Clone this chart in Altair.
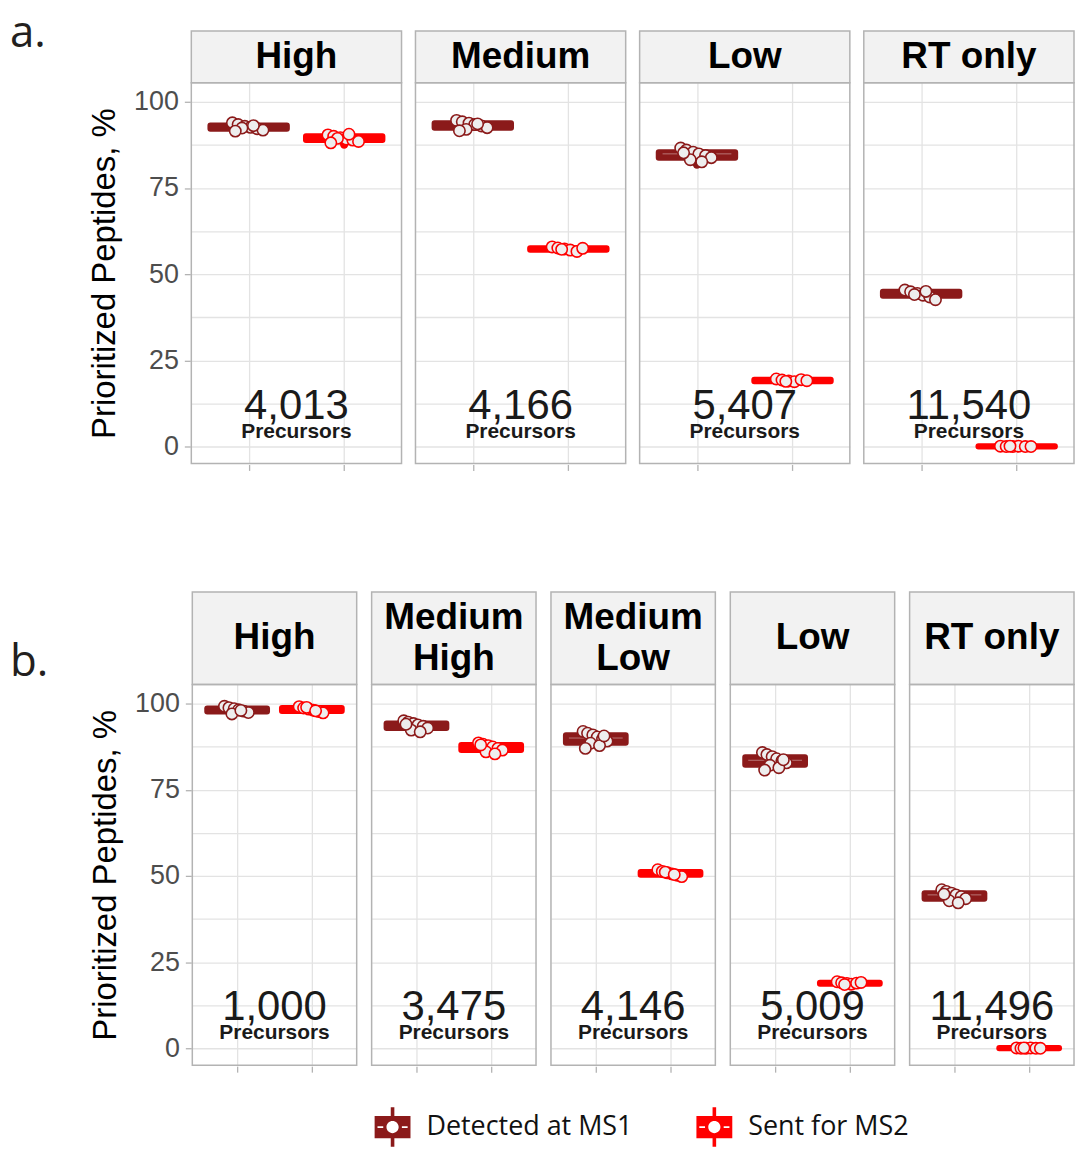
import altair as alt
import pandas as pd

MS1 = "Detected at MS1"
MS2 = "Sent for MS2"
TYPES = [MS1, MS2]
COLORS = ["#8B1A1A", "#FF0000"]

# ---------------- panel a ----------------
A_PANELS = ["High", "Medium", "Low", "RT only"]
A_STRIPS = ["High", "Medium", "Low", "RT only"]
A_COUNTS = [4013, 4166, 5407, 11540]
A_MS1 = {
    "High": [93.9, 93.4, 92.9, 92.6, 92.2, 91.8, 92.4, 93.1, 91.5],
    "Medium": [94.6, 94.2, 93.8, 93.4, 93.0, 92.5, 92.0, 93.6, 91.6],
    "Low": [86.6, 86.0, 85.4, 84.9, 84.4, 83.8, 83.2, 82.6, 85.2],
    "RT only": [45.4, 44.9, 44.4, 43.9, 43.4, 42.6, 44.1, 45.0],
}
A_MS2 = {
    "High": [90.4, 90.0, 89.6, 89.2, 88.9, 88.5, 89.4, 90.6, 88.1],
    "Medium": [57.9, 57.6, 57.3, 57.0, 56.6, 57.5, 57.2],
    "Low": [19.6, 19.3, 19.0, 18.8, 19.4, 19.1, 18.9],
    "RT only": [0.1, 0.0, 0.0, 0.1, 0.0, 0.0, 0.1],
}
A_OUTLIERS = [("High", MS2, 87.6), ("Low", MS1, 81.8)]

# ---------------- panel b ----------------
B_PANELS = ["High", "Medium High", "Medium Low", "Low", "RT only"]
B_STRIPS = ["High", "Medium\nHigh", "Medium\nLow", "Low", "RT only"]
B_COUNTS = [1000, 3475, 4146, 5009, 11496]
B_MS1 = {
    "High": [99.2, 98.8, 98.5, 98.2, 97.8, 97.4, 97.0, 98.0],
    "Medium High": [95.0, 94.6, 94.2, 93.8, 93.4, 92.9, 92.3, 91.8, 94.0],
    "Medium Low": [91.9, 91.4, 90.9, 90.3, 89.7, 89.1, 88.5, 87.8, 87.0, 90.6],
    "Low": [85.8, 85.2, 84.6, 84.0, 83.4, 82.8, 82.1, 81.4, 80.7, 83.7],
    "RT only": [46.0, 45.5, 45.0, 44.5, 44.0, 43.4, 42.8, 42.2, 44.7],
}
B_MS2 = {
    "High": [99.1, 98.7, 98.4, 98.1, 97.7, 97.3, 98.9, 97.9],
    "Medium High": [88.6, 88.2, 87.8, 87.4, 87.0, 86.5, 86.0, 85.4, 88.0],
    "Medium Low": [51.8, 51.3, 50.9, 50.6, 50.2, 49.8, 51.1, 50.4],
    "Low": [19.3, 19.0, 18.8, 18.6, 18.9, 19.1, 18.5],
    "RT only": [0.1, 0.0, 0.0, 0.1, 0.0, 0.0, 0.1],
}
B_OUTLIERS = []

# horizontal jitter of the replicate points (category units)
JITTER = [-0.17, -0.11, -0.04, 0.02, 0.09, 0.15, -0.07, 0.05, -0.14, 0.11]

Y_TICKS = [0, 12.5, 25, 37.5, 50, 62.5, 75, 87.5, 100]

# ---------------- geometry ----------------
XMIN, XMAX = 0.4, 2.6
YMIN, YMAX = -4.9, 105.5
PLOT_H = 382
PXU = PLOT_H / (YMAX - YMIN)
LINE_H = 41
GRID = "#e3e3e3"
BORDER = "#b3b3b3"
STRIP_FILL = "#f2f2f2"
FONT = "Liberation Sans"

LEGEND_PATH = (
    "M-1,-0.62 L1,-0.62 L1,0.62 L-1,0.62 Z "
    "M-0.1,-1.1 L0.1,-1.1 L0.1,-0.62 L-0.1,-0.62 Z "
    "M-0.1,0.62 L0.1,0.62 L0.1,1.1 L-0.1,1.1 Z "
    "M0.34,0 A0.34,0.34 0 1 0 -0.34,0 A0.34,0.34 0 1 0 0.34,0 Z "
    "M-0.84,-0.05 L-0.84,0.05 L-0.52,0.05 L-0.52,-0.05 Z "
    "M0.52,-0.05 L0.52,0.05 L0.84,0.05 L0.84,-0.05 Z"
)


def build_df(panels, strips, counts, ms1, ms2, outliers):
    rows = []
    for i, p in enumerate(panels):
        rows.append(dict(kind="panel", panel=p, strip=strips[i],
                         nl=strips[i].count("\n") + 1, count=counts[i]))
        for t_i, (t, vals) in enumerate([(MS1, ms1[p]), (MS2, ms2[p])]):
            for j, v in enumerate(vals):
                rows.append(dict(kind="point", panel=p, type=t, idx=t_i + 1,
                                 value=v, jit=JITTER[j % len(JITTER)]))
    for p, t, v in outliers:
        rows.append(dict(kind="outlier", panel=p, type=t,
                         idx=TYPES.index(t) + 1, value=v))
    return pd.DataFrame(rows)


def make_row(panels, strips, counts, ms1, ms2, outliers,
             strip_px, blank_px, width, spacing, tag, tag_y, show_legend):
    df = build_df(panels, strips, counts, ms1, ms2, outliers)
    strip_top = YMAX + strip_px / PXU
    y_top = YMAX + (strip_px + blank_px) / PXU
    view_h = PLOT_H + strip_px + blank_px

    XS = alt.Scale(domain=[XMIN, XMAX], nice=False, zero=False)
    YS = alt.Scale(domain=[YMIN, y_top], nice=False, zero=False)
    XA = alt.Axis(values=[1, 2], labels=False, title=None, domain=False,
                  grid=True, gridColor=GRID, gridWidth=1.3,
                  ticks=True, tickColor=BORDER, tickSize=6, tickWidth=1.3)
    YA = alt.Axis(values=Y_TICKS, domain=False, grid=True, gridColor=GRID,
                  gridWidth=1.3, tickColor=BORDER, tickSize=6, tickWidth=1.3,
                  tickOpacity={"condition": {"test": "datum.value % 25 === 0", "value": 1}, "value": 0},
                  labelExpr="datum.value % 25 === 0 ? datum.label : ''",
                  labelFont=FONT, labelFontSize=27, labelColor="#4d4d4d",
                  labelPadding=6,
                  title="Prioritized Peptides, %", titleFont=FONT,
                  titleFontSize=33, titleFontWeight="normal", titleColor="#000000",
                  titleAngle=270, titleBaseline="bottom", titleAlign="center",
                  titleX=-69, titleY=strip_px + blank_px + PLOT_H / 2)

    def X(f):
        return alt.X(f, scale=XS, axis=XA)

    def Y(f):
        return alt.Y(f, scale=YS, axis=YA)

    if show_legend:
        legend = alt.Legend(title=None, orient="none", legendX=368, legendY=1103,
                            direction="horizontal", symbolType=LEGEND_PATH,
                            symbolSize=1296, symbolStrokeWidth=0, symbolOpacity=1,
                            labelFont="Open Sans", labelFontSize=27, labelLimit=0,
                            labelColor="#111111", labelOffset=16,
                            columnPadding=64)
    else:
        legend = None
    color_scale = alt.Scale(domain=TYPES, range=COLORS)

    consts = dict(x0=f"{XMIN}", x1=f"{XMAX}", y0=f"{YMIN}", y1=f"{YMAX}",
                  ys=f"{strip_top}", yt=f"{y_top}",
                  ym=f"{(YMAX + strip_top) / 2} + (datum.nl - 1) * {LINE_H / 2 / PXU}",
                  cx="1.5", cy="8.1", py="2.6")

    panel_base = alt.Chart().transform_filter(alt.datum.kind == "panel").transform_calculate(**consts)

    layers = []
    if blank_px > 0:
        layers.append(panel_base.mark_rect(fill="white").encode(
            x=X("x0:Q"), x2="x1:Q", y=Y("ys:Q"), y2="yt:Q"))
    layers.append(panel_base.mark_rect(fill=STRIP_FILL, stroke=BORDER, strokeWidth=1.5).encode(
        x=X("x0:Q"), x2="x1:Q", y=Y("y1:Q"), y2="ys:Q"))
    layers.append(panel_base.mark_rect(fillOpacity=0, stroke=BORDER, strokeWidth=1.5).encode(
        x=X("x0:Q"), x2="x1:Q", y=Y("y0:Q"), y2="y1:Q"))
    layers.append(panel_base.mark_text(font=FONT, fontSize=37, fontWeight="bold",
                                       color="#000000", baseline="middle",
                                       lineBreak="\n", lineHeight=LINE_H).encode(
        x=X("cx:Q"), y=Y("ym:Q"), text="strip:N"))

    pts = alt.Chart().transform_filter(alt.datum.kind == "point")
    box = pts.transform_aggregate(
        q1="q1(value)", q3="q3(value)", med="median(value)",
        groupby=["panel", "type", "idx"]
    ).transform_calculate(bx1="datum.idx - 0.4", bx2="datum.idx + 0.4",
                          mx1="datum.idx - 0.36", mx2="datum.idx + 0.36")
    layers.append(box.mark_rect(strokeWidth=6, strokeJoin="round", opacity=1).encode(
        x=X("bx1:Q"), x2="bx2:Q", y=Y("q1:Q"), y2="q3:Q",
        color=alt.Color("type:N", scale=color_scale, legend=legend),
        stroke=alt.Stroke("type:N", scale=color_scale, legend=None)))
    layers.append(box.transform_filter("datum.q3 - datum.q1 > 1.5").mark_rule(
        color="white", opacity=0.4, strokeWidth=1).encode(
        x=X("mx1:Q"), x2="mx2:Q", y=Y("med:Q")))

    layers.append(alt.Chart().transform_filter(alt.datum.kind == "outlier").mark_circle(
        size=70, opacity=1).encode(
        x=X("idx:Q"), y=Y("value:Q"),
        fill=alt.Fill("type:N", scale=color_scale, legend=None)))

    layers.append(pts.transform_calculate(xj="datum.idx + datum.jit").mark_circle(
        size=130, opacity=1, fill="#eeeeee", strokeWidth=1.6).encode(
        x=X("xj:Q"), y=Y("value:Q"),
        stroke=alt.Stroke("type:N", scale=color_scale, legend=None)))

    layers.append(panel_base.mark_text(font=FONT, fontSize=42, color="#1a1a1a",
                                       baseline="alphabetic").encode(
        x=X("cx:Q"), y=Y("cy:Q"), text=alt.Text("count:Q", format=",")))
    layers.append(panel_base.mark_text(font=FONT, fontSize=21, fontWeight="bold",
                                       color="#1a1a1a", baseline="alphabetic").encode(
        x=X("cx:Q"), y=Y("py:Q"), text=alt.value("Precursors")))

    fac = alt.layer(*layers, data=df).properties(width=width, height=view_h).facet(
        column=alt.Column("panel:N", sort=panels, title=None,
                          header=alt.Header(labels=False, labelPadding=0)),
        spacing=spacing)

    lab = alt.Chart(pd.DataFrame({"t": [tag]})).mark_text(
        align="left", baseline="alphabetic", font="Open Sans", fontSize=44,
        color="#231f20").encode(text="t:N", x=alt.value(2), y=alt.value(tag_y)
    ).properties(width=40, height=40)

    return alt.hconcat(lab, fac, spacing=40)


row_a = make_row(A_PANELS, A_STRIPS, A_COUNTS, A_MS1, A_MS2, A_OUTLIERS,
                 strip_px=52, blank_px=21, width=211, spacing=12,
                 tag="a.", tag_y=37, show_legend=True)
row_b = make_row(B_PANELS, B_STRIPS, B_COUNTS, B_MS1, B_MS2, B_OUTLIERS,
                 strip_px=93, blank_px=0, width=165, spacing=13,
                 tag="b.", tag_y=84, show_legend=True)

chart = alt.vconcat(row_a, row_b, spacing=120).properties(
    padding=0, background="white"
).configure_view(strokeWidth=0)

chart.save("out.html", embed_options={"renderer": "svg", "actions": False})
